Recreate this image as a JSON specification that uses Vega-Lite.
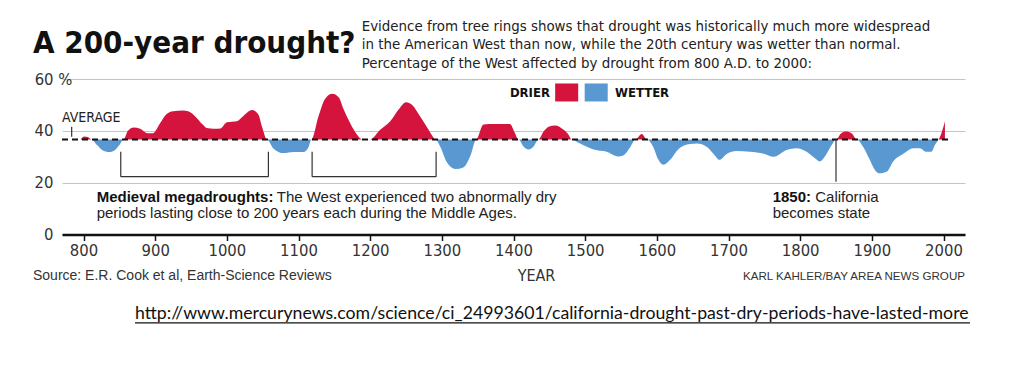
{
  "$schema": "https://vega.github.io/schema/vega-lite/v6.json",
  "width": 903,
  "height": 155.5,
  "autosize": {"type": "none"},
  "padding": {"left": 62, "top": 79, "right": 56, "bottom": 151.5},
  "background": "white",
  "config": {
    "view": {"stroke": null},
    "axis": {
      "labelFont": "DejaVu Sans Condensed, sans-serif",
      "titleFont": "DejaVu Sans Condensed, sans-serif",
      "labelColor": "#333333",
      "titleColor": "#333333"
    }
  },
  "data": {
    "values": [
      {"year": 796, "pct": 36.7}, {"year": 801, "pct": 37.8}, {"year": 806, "pct": 37.6}, {"year": 811, "pct": 36.7},
      {"year": 819, "pct": 34.5}, {"year": 826, "pct": 32.6}, {"year": 836, "pct": 31.8}, {"year": 844, "pct": 32.6},
      {"year": 850, "pct": 34.5}, {"year": 856, "pct": 36.7}, {"year": 862, "pct": 40.0}, {"year": 870, "pct": 41.3},
      {"year": 879, "pct": 40.8}, {"year": 889, "pct": 39.1}, {"year": 897, "pct": 39.1}, {"year": 907, "pct": 43.0},
      {"year": 916, "pct": 46.5}, {"year": 925, "pct": 47.6}, {"year": 939, "pct": 47.8}, {"year": 946, "pct": 47.6},
      {"year": 958, "pct": 45.0}, {"year": 966, "pct": 42.5}, {"year": 972, "pct": 41.1}, {"year": 982, "pct": 40.8},
      {"year": 991, "pct": 40.9}, {"year": 1000, "pct": 43.3}, {"year": 1014, "pct": 43.7}, {"year": 1023, "pct": 45.7},
      {"year": 1035, "pct": 48.0}, {"year": 1044, "pct": 46.3}, {"year": 1049, "pct": 41.7}, {"year": 1056, "pct": 36.7},
      {"year": 1065, "pct": 33.2}, {"year": 1079, "pct": 31.4}, {"year": 1093, "pct": 31.8}, {"year": 1107, "pct": 31.8},
      {"year": 1114, "pct": 33.8}, {"year": 1118, "pct": 36.7}, {"year": 1128, "pct": 45.7}, {"year": 1137, "pct": 52.3},
      {"year": 1147, "pct": 54.3}, {"year": 1156, "pct": 53.0}, {"year": 1163, "pct": 48.3}, {"year": 1172, "pct": 43.0},
      {"year": 1182, "pct": 38.4}, {"year": 1189, "pct": 36.7}, {"year": 1200, "pct": 36.7}, {"year": 1214, "pct": 40.4},
      {"year": 1228, "pct": 43.7}, {"year": 1240, "pct": 48.3}, {"year": 1250, "pct": 51.0}, {"year": 1260, "pct": 49.6},
      {"year": 1268, "pct": 46.3}, {"year": 1277, "pct": 42.4}, {"year": 1286, "pct": 38.4}, {"year": 1291, "pct": 36.7},
      {"year": 1298, "pct": 33.8}, {"year": 1307, "pct": 27.9}, {"year": 1319, "pct": 25.3}, {"year": 1330, "pct": 25.9},
      {"year": 1340, "pct": 30.5}, {"year": 1348, "pct": 36.7}, {"year": 1358, "pct": 42.4}, {"year": 1366, "pct": 42.6},
      {"year": 1395, "pct": 42.6}, {"year": 1402, "pct": 39.1}, {"year": 1407, "pct": 36.7}, {"year": 1414, "pct": 34.0},
      {"year": 1421, "pct": 32.8}, {"year": 1428, "pct": 34.0}, {"year": 1435, "pct": 36.7}, {"year": 1442, "pct": 39.7},
      {"year": 1449, "pct": 41.6}, {"year": 1458, "pct": 42.1}, {"year": 1470, "pct": 40.4}, {"year": 1477, "pct": 38.4},
      {"year": 1481, "pct": 36.7}, {"year": 1493, "pct": 35.1}, {"year": 1512, "pct": 32.8}, {"year": 1530, "pct": 31.9},
      {"year": 1546, "pct": 30.1}, {"year": 1553, "pct": 30.5}, {"year": 1563, "pct": 33.8}, {"year": 1570, "pct": 36.7},
      {"year": 1579, "pct": 38.8}, {"year": 1586, "pct": 36.7}, {"year": 1595, "pct": 33.8}, {"year": 1602, "pct": 28.9},
      {"year": 1609, "pct": 26.9}, {"year": 1619, "pct": 28.9}, {"year": 1630, "pct": 32.9}, {"year": 1646, "pct": 34.9},
      {"year": 1656, "pct": 35.1}, {"year": 1670, "pct": 33.8}, {"year": 1681, "pct": 30.5}, {"year": 1687, "pct": 28.8},
      {"year": 1698, "pct": 31.2}, {"year": 1711, "pct": 32.2}, {"year": 1730, "pct": 31.9}, {"year": 1749, "pct": 31.2},
      {"year": 1763, "pct": 30.0}, {"year": 1781, "pct": 32.6}, {"year": 1795, "pct": 33.3}, {"year": 1809, "pct": 31.9},
      {"year": 1821, "pct": 29.3}, {"year": 1827, "pct": 28.2}, {"year": 1837, "pct": 31.2}, {"year": 1844, "pct": 34.5},
      {"year": 1850, "pct": 36.7}, {"year": 1857, "pct": 39.0}, {"year": 1864, "pct": 39.7}, {"year": 1872, "pct": 39.0},
      {"year": 1879, "pct": 36.7}, {"year": 1888, "pct": 33.8}, {"year": 1897, "pct": 28.9}, {"year": 1904, "pct": 25.0},
      {"year": 1911, "pct": 23.6}, {"year": 1921, "pct": 24.3}, {"year": 1930, "pct": 28.3}, {"year": 1944, "pct": 31.2},
      {"year": 1958, "pct": 33.3}, {"year": 1967, "pct": 33.3}, {"year": 1976, "pct": 31.9}, {"year": 1983, "pct": 31.9},
      {"year": 1988, "pct": 34.5}, {"year": 1993, "pct": 36.7}, {"year": 1995, "pct": 37.6}, {"year": 2002, "pct": 43.7}
    ]
  },
  "layer": [
    {
      "transform": [{"filter": "datum.pct >= 36.7"}],
      "mark": {"type": "area", "interpolate": "monotone"},
      "encoding": {
        "x": {
          "field": "year", "type": "quantitative",
          "scale": {"domain": [770, 2030], "nice": false, "zero": false},
          "axis": {
            "title": "YEAR",
            "values": [800, 900, 1000, 1100, 1200, 1300, 1400, 1500, 1600, 1700, 1800, 1900, 2000],
            "format": "d",
            "grid": false,
            "domainColor": "#111111", "domainWidth": 2.5,
            "tickColor": "#111111", "tickWidth": 1.5, "tickSize": 6,
            "labelFontSize": 16.5, "labelPadding": 2, "labelFlush": false,
            "titleFontSize": 16, "titleFontWeight": "normal",
            "titleX": 474, "titleY": 45.8, "titleBaseline": "alphabetic", "titleAlign": "center"
          }
        },
        "y": {
          "field": "pct", "type": "quantitative",
          "scale": {"domain": [0, 60], "nice": false},
          "axis": {
            "title": null,
            "values": [0, 10, 20, 30, 40, 50, 60],
            "labelExpr": "datum.value % 20 === 0 ? (datum.value === 60 ? '60 %' : datum.label) : ''",
            "labelAlign": {"condition": {"test": "datum.value === 60", "value": "center"}, "value": "right"},
            "domain": false, "ticks": false,
            "grid": true, "gridColor": "#c4c4c4", "gridWidth": 1,
            "labelFontSize": 16.5, "labelPadding": 9
          }
        },
        "y2": {"datum": 36.7},
        "color": {
          "datum": "DRIER", "type": "nominal",
          "scale": {"domain": ["DRIER", "WETTER"], "range": ["#d5143e", "#5a98d2"]},
          "legend": null
        }
      }
    },
    {
      "transform": [{"filter": "datum.pct <= 36.7"}],
      "mark": {"type": "area", "interpolate": "monotone"},
      "encoding": {
        "x": {"field": "year", "type": "quantitative"},
        "y": {"field": "pct", "type": "quantitative"},
        "y2": {"datum": 36.7},
        "color": {"datum": "WETTER", "type": "nominal"}
      }
    },
    {
      "data": {"values": [{}]},
      "mark": {"type": "rule", "strokeDash": [6, 4], "strokeWidth": 2, "color": "#111111"},
      "encoding": {
        "x": {"datum": 770, "type": "quantitative"},
        "x2": {"datum": 2008},
        "y": {"datum": 36.7, "type": "quantitative"}
      }
    },
    {
      "data": {"values": [{}]},
      "mark": {"type": "rule", "strokeWidth": 1.2, "color": "#333333"},
      "encoding": {
        "x": {"datum": 783.5, "type": "quantitative"},
        "y": {"datum": 41.6, "type": "quantitative"},
        "y2": {"datum": 37.7}
      }
    },
    {
      "data": {"values": [{"start": 852, "end": 1058}, {"start": 1119, "end": 1292}]},
      "layer": [
        {
          "mark": {"type": "rule", "strokeWidth": 1.2, "color": "#333333"},
          "encoding": {
            "x": {"field": "start", "type": "quantitative"},
            "y": {"datum": 31.9, "type": "quantitative"},
            "y2": {"datum": 22.3}
          }
        },
        {
          "mark": {"type": "rule", "strokeWidth": 1.2, "color": "#333333"},
          "encoding": {
            "x": {"field": "end", "type": "quantitative"},
            "y": {"datum": 31.9, "type": "quantitative"},
            "y2": {"datum": 22.3}
          }
        },
        {
          "mark": {"type": "rule", "strokeWidth": 1.2, "color": "#333333"},
          "encoding": {
            "x": {"field": "start", "type": "quantitative"},
            "x2": {"field": "end"},
            "y": {"datum": 22.3, "type": "quantitative"}
          }
        }
      ]
    },
    {
      "data": {"values": [{"year": 1850}]},
      "mark": {"type": "rule", "strokeWidth": 1.2, "color": "#333333"},
      "encoding": {
        "x": {"field": "year", "type": "quantitative"},
        "y": {"datum": 36.7, "type": "quantitative"},
        "y2": {"datum": 20.4}
      }
    },
    {
      "data": {"values": [{}]},
      "mark": {"type": "point", "shape": "M-1.28,-1H1.28V1H-1.28Z", "filled": true, "opacity": 1, "size": 324},
      "encoding": {
        "x": {"datum": 1474.2, "type": "quantitative"},
        "y": {"datum": 54.8, "type": "quantitative"},
        "color": {"datum": "DRIER", "type": "nominal"}
      }
    },
    {
      "data": {"values": [{}]},
      "mark": {"type": "point", "shape": "M-1.28,-1H1.28V1H-1.28Z", "filled": true, "opacity": 1, "size": 324},
      "encoding": {
        "x": {"datum": 1515.4, "type": "quantitative"},
        "y": {"datum": 54.8, "type": "quantitative"},
        "color": {"datum": "WETTER", "type": "nominal"}
      }
    },
    {
      "data": {"values": [{}]},
      "mark": {"type": "text", "align": "right", "baseline": "alphabetic", "font": "DejaVu Sans Condensed, sans-serif", "fontSize": 13, "fontWeight": "bold", "color": "#111111"},
      "encoding": {
        "x": {"datum": 1450.9, "type": "quantitative"},
        "y": {"datum": 52.9, "type": "quantitative"},
        "text": {"value": "DRIER"}
      }
    },
    {
      "data": {"values": [{}]},
      "mark": {"type": "text", "align": "left", "baseline": "alphabetic", "font": "DejaVu Sans Condensed, sans-serif", "fontSize": 13, "fontWeight": "bold", "color": "#111111"},
      "encoding": {
        "x": {"datum": 1541.6, "type": "quantitative"},
        "y": {"datum": 52.9, "type": "quantitative"},
        "text": {"value": "WETTER"}
      }
    },
    {
      "data": {"values": [{}]},
      "mark": {"type": "text", "align": "left", "baseline": "alphabetic", "font": "DejaVu Sans Condensed, sans-serif", "fontSize": 14, "color": "#222222"},
      "encoding": {
        "x": {"datum": 770, "type": "quantitative"},
        "y": {"datum": 43.5, "type": "quantitative"},
        "text": {"value": "AVERAGE"}
      }
    },
    {
      "data": {"values": [{}]},
      "mark": {"type": "text", "align": "left", "baseline": "alphabetic", "font": "Liberation Sans, Arial, sans-serif", "fontSize": 15, "fontWeight": "bold", "color": "#111111"},
      "encoding": {
        "x": {"datum": 818.4, "type": "quantitative"},
        "y": {"datum": 12.66, "type": "quantitative"},
        "text": {"value": "Medieval megadroughts:"}
      }
    },
    {
      "data": {"values": [{}]},
      "mark": {"type": "text", "align": "left", "baseline": "alphabetic", "font": "Liberation Sans, Arial, sans-serif", "fontSize": 15, "color": "#222222"},
      "encoding": {
        "x": {"datum": 1069.6, "type": "quantitative"},
        "y": {"datum": 12.66, "type": "quantitative"},
        "text": {"value": "The West experienced two abnormally dry"}
      }
    },
    {
      "data": {"values": [{}]},
      "mark": {"type": "text", "align": "left", "baseline": "alphabetic", "font": "Liberation Sans, Arial, sans-serif", "fontSize": 15, "color": "#222222"},
      "encoding": {
        "x": {"datum": 818.4, "type": "quantitative"},
        "y": {"datum": 6.48, "type": "quantitative"},
        "text": {"value": "periods lasting close to 200 years each during the Middle Ages."}
      }
    },
    {
      "data": {"values": [{}]},
      "mark": {"type": "text", "align": "left", "baseline": "alphabetic", "font": "Liberation Sans, Arial, sans-serif", "fontSize": 15, "fontWeight": "bold", "color": "#111111"},
      "encoding": {
        "x": {"datum": 1761.6, "type": "quantitative"},
        "y": {"datum": 12.66, "type": "quantitative"},
        "text": {"value": "1850:"}
      }
    },
    {
      "data": {"values": [{}]},
      "mark": {"type": "text", "align": "left", "baseline": "alphabetic", "font": "Liberation Sans, Arial, sans-serif", "fontSize": 15, "color": "#222222"},
      "encoding": {
        "x": {"datum": 1821, "type": "quantitative"},
        "y": {"datum": 12.66, "type": "quantitative"},
        "text": {"value": "California"}
      }
    },
    {
      "data": {"values": [{}]},
      "mark": {"type": "text", "align": "left", "baseline": "alphabetic", "font": "Liberation Sans, Arial, sans-serif", "fontSize": 15, "color": "#222222"},
      "encoding": {
        "x": {"datum": 1761.6, "type": "quantitative"},
        "y": {"datum": 6.48, "type": "quantitative"},
        "text": {"value": "becomes state"}
      }
    },
    {
      "data": {"values": [{}]},
      "mark": {"type": "text", "align": "left", "baseline": "alphabetic", "font": "DejaVu Sans Condensed, sans-serif", "fontSize": 31, "fontWeight": "bold", "color": "#111111"},
      "encoding": {
        "x": {"datum": 729.5, "type": "quantitative"},
        "y": {"datum": 70.15, "type": "quantitative"},
        "text": {"value": "A 200-year drought?"}
      }
    },
    {
      "data": {"values": [{}]},
      "mark": {"type": "text", "align": "left", "baseline": "alphabetic", "lineHeight": 18.5, "font": "DejaVu Sans Condensed, sans-serif", "fontSize": 14.9, "color": "#222222"},
      "encoding": {
        "x": {"datum": 1188.2, "type": "quantitative"},
        "y": {"datum": 78.6, "type": "quantitative"},
        "text": {"value": [
          "Evidence from tree rings shows that drought was historically much more widespread",
          "in the American West than now, while the 20th century was wetter than normal.",
          "Percentage of the West affected by drought from 800 A.D. to 2000:"
        ]}
      }
    },
    {
      "data": {"values": [{}]},
      "mark": {"type": "text", "align": "left", "baseline": "alphabetic", "font": "Liberation Sans, Arial, sans-serif", "fontSize": 14, "color": "#333333"},
      "encoding": {
        "x": {"datum": 729.5, "type": "quantitative"},
        "y": {"datum": -17.7, "type": "quantitative"},
        "text": {"value": "Source: E.R. Cook et al, Earth-Science Reviews"}
      }
    },
    {
      "data": {"values": [{}]},
      "mark": {"type": "text", "align": "right", "baseline": "alphabetic", "font": "Liberation Sans, Arial, sans-serif", "fontSize": 11.6, "color": "#333333"},
      "encoding": {
        "x": {"datum": 2030, "type": "quantitative"},
        "y": {"datum": -17.7, "type": "quantitative"},
        "text": {"value": "KARL KAHLER/BAY AREA NEWS GROUP"}
      }
    },
    {
      "data": {"values": [{}]},
      "mark": {"type": "text", "align": "left", "baseline": "alphabetic", "font": "Lato, sans-serif", "fontSize": 17.7, "color": "#111111"},
      "encoding": {
        "x": {"datum": 871.9, "type": "quantitative"},
        "y": {"datum": -32.5, "type": "quantitative"},
        "text": {"value": "http://www.mercurynews.com/science/ci_24993601/california-drought-past-dry-periods-have-lasted-more"}
      }
    },
    {
      "data": {"values": [{}]},
      "mark": {"type": "rule", "strokeWidth": 1.2, "color": "#111111"},
      "encoding": {
        "x": {"datum": 871.9, "type": "quantitative"},
        "x2": {"datum": 2036.9},
        "y": {"datum": -34.1, "type": "quantitative"}
      }
    }
  ]
}
